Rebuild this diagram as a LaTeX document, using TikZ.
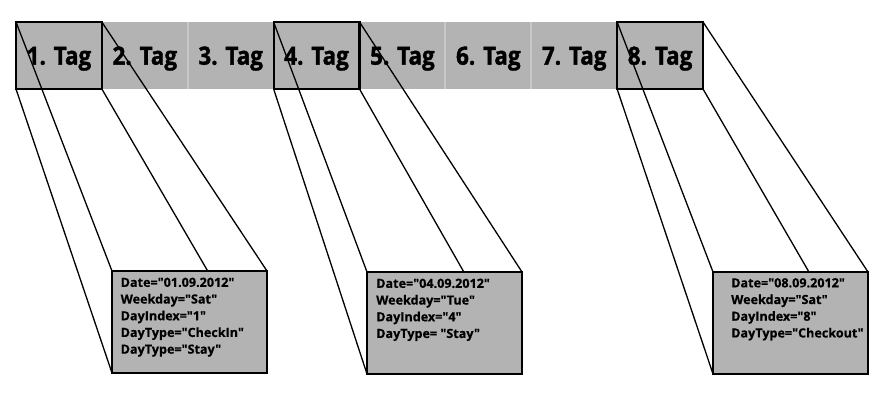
\documentclass[tikz,border=0pt]{standalone}
\usepackage{fontspec}
\setmainfont{Open Sans}[Ligatures=TeXOff,BoldFeatures={FakeBold=0.5}]
\newfontfamily\tagfont{Open Sans}[Ligatures=TeXOff,FakeStretch=0.9,
  BoldFeatures={FakeBold=1.4}]
\usepackage{tikz}
\usetikzlibrary{calc,positioning}
\pgfdeclarelayer{back}
\pgfdeclarelayer{lines}
\pgfsetlayers{back,lines,main}
\definecolor{barfill}{HTML}{B3B3B3}
\definecolor{sepgray}{HTML}{C8C8C8}
\tikzset{
  tag/.style={fill=barfill,minimum width=85.875pt,minimum height=67pt,
    inner sep=0pt,outer sep=0pt,text height=18.3pt,text depth=0pt,
    font=\tagfont\fontsize{25}{30}\selectfont\bfseries},
  sel/.style={draw,line width=2.2pt},
  info/.style={draw,fill=barfill,line width=1.9pt,minimum width=155pt,
    minimum height=102pt,inner sep=0pt,outer sep=0pt,anchor=north west},
  infotext/.style={anchor=north west,align=left,inner sep=0pt,
    font=\fontsize{12.6}{16.7}\selectfont\bfseries},
  edge/.style={line width=1.3pt},
  sep/.style={sepgray,line width=2pt}
}

\begin{document}
\begin{tikzpicture}[x=1pt,y=-1pt]
  \useasboundingbox (0,0) rectangle (890,400);

  % day bar
  \begin{pgfonlayer}{back}
    \foreach \i in {1,...,8}
      \node[tag] (tag\i) at ({16+85.875*(\i-0.5)},55.5) {\i. Tag};
    \foreach \i in {1,...,7}
      \draw[sep] (tag\i.north east) -- (tag\i.south east);
  \end{pgfonlayer}

  % detail boxes
  \node[info] (info1) at (112,271) {};
  \node[info] (info4) at (367,272) {};
  \node[info] (info8) at (713,272) {};

  \node[infotext] (txt1) at ($(info1.north west)+(8.5,6.5)$)
    {Date="01.09.2012"\\Weekday="Sat"\\DayIndex="1"\\DayType="CheckIn"\\DayType="Stay"};
  \node[infotext] (txt4) at ($(info4.north west)+(9,6.5)$)
    {Date="04.09.2012"\\Weekday="Tue"\\DayIndex="4"\\DayType= "Stay"};
  \node[infotext] (txt8) at ($(info8.north west)+(18,6)$)
    {Date="08.09.2012"\\Weekday="Sat"\\DayIndex="8"\\DayType="Checkout"};

  % selected days
  \foreach \i in {1,4,8}
    \draw[sel] (tag\i.north west) rectangle (tag\i.south east);

  % projection edges
  \begin{pgfonlayer}{lines}
    \foreach \i in {1,4,8} {
      \draw[edge] (tag\i.north west) -- (info\i.north west);
      \draw[edge] (tag\i.south west) -- (info\i.south west);
      \draw[edge] (tag\i.north east) -- (info\i.north east);
      \draw[edge] (tag\i.south east) -- (info\i.south east);
    }
  \end{pgfonlayer}
\end{tikzpicture}
\end{document}
